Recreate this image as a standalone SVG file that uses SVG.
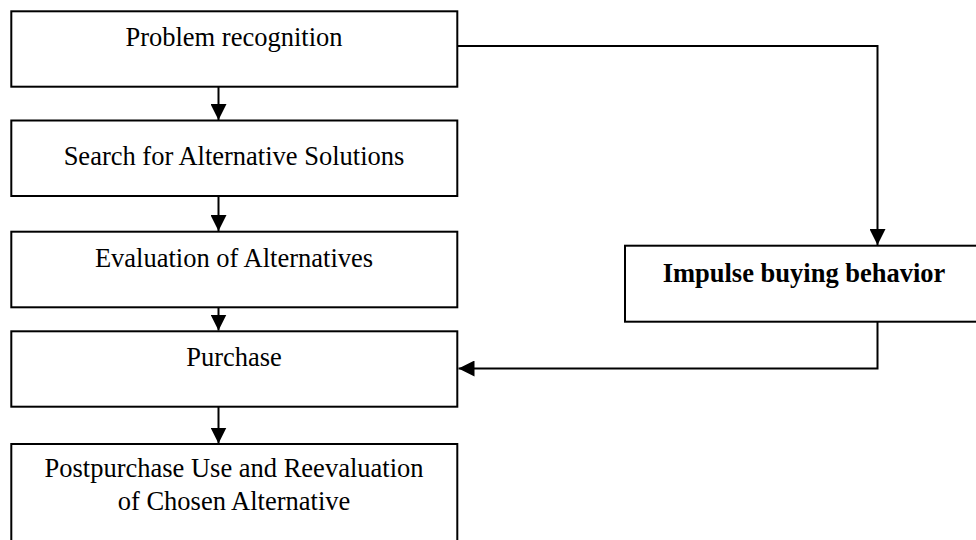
<svg xmlns="http://www.w3.org/2000/svg" width="976" height="540" viewBox="0 0 976 540">
  <style>
    .box { fill: #ffffff; stroke: #000000; stroke-width: 2; }
    .lbl { font-family: "Liberation Serif", "Times New Roman", serif; font-size: 26.5px; fill: #000000; text-anchor: middle; }
    .bold { font-weight: bold; }
    .wire { fill: none; stroke: #000000; stroke-width: 2; }
  </style>
  <defs>
    <marker id="head" markerUnits="userSpaceOnUse" markerWidth="16" markerHeight="16" refX="16" refY="8" orient="auto">
      <path d="M0,0 L16,8 L0,16 Z" fill="#000000"/>
    </marker>
  </defs>
  <rect width="976" height="540" fill="#ffffff"/>

  <g id="connectors">
    <path class="wire" d="M218.5,87 V120" marker-end="url(#head)"/>
    <path class="wire" d="M218.5,196 V231" marker-end="url(#head)"/>
    <path class="wire" d="M218.5,307 V330.5" marker-end="url(#head)"/>
    <path class="wire" d="M218.5,407 V443.5" marker-end="url(#head)"/>
    <path class="wire" d="M457.3,46 H877.5 V245" marker-end="url(#head)"/>
    <path class="wire" d="M877.5,322 V368.5 H458.5" marker-end="url(#head)"/>
  </g>

  <g id="problem-recognition">
    <rect class="box" x="11.3" y="11.3" width="446" height="75.4"/>
    <text class="lbl" x="234" y="45.5">Problem recognition</text>
  </g>

  <g id="search-alternatives">
    <rect class="box" x="11.3" y="120.5" width="446" height="75.5"/>
    <text class="lbl" x="234" y="165">Search for Alternative Solutions</text>
  </g>

  <g id="evaluation">
    <rect class="box" x="11.3" y="231.7" width="446" height="75.6"/>
    <text class="lbl" x="234" y="267.3">Evaluation of Alternatives</text>
  </g>

  <g id="purchase">
    <rect class="box" x="11.3" y="331.3" width="446" height="75.4"/>
    <text class="lbl" x="234" y="365.8">Purchase</text>
  </g>

  <g id="postpurchase">
    <rect class="box" x="11.3" y="444" width="446" height="110"/>
    <text class="lbl" x="234" y="476.7">Postpurchase Use and Reevaluation</text>
    <text class="lbl" x="234" y="510">of Chosen Alternative</text>
  </g>

  <g id="impulse-buying">
    <rect class="box" x="625" y="245.7" width="360" height="76"/>
    <text class="lbl bold" x="804" y="281.7">Impulse buying behavior</text>
  </g>
</svg>
